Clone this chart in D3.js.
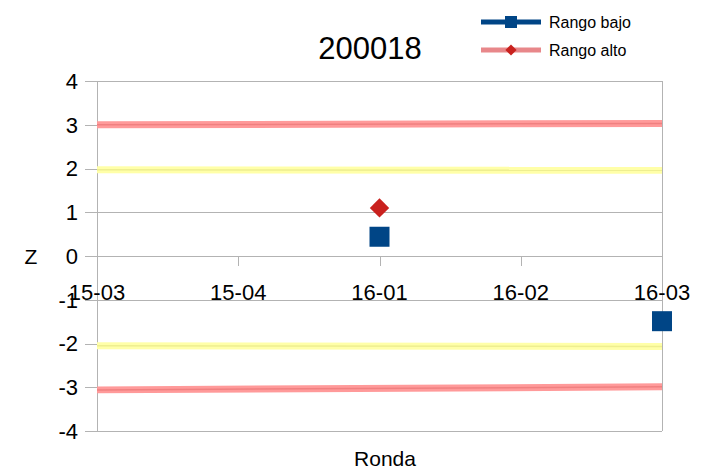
<!DOCTYPE html>
<html>
<head>
<meta charset="utf-8">
<style>
  body { margin: 0; background: #fff; }
  text { font-family: "Liberation Sans", Arial, sans-serif; fill: #000; }
  .grid line { stroke: #b3b3b3; stroke-width: 1; shape-rendering: crispEdges; }
</style>
</head>
<body>
<svg width="714" height="470"></svg>
<script src="https://d3js.org/d3.v7.min.js"></script>
<script>
var rondas = ["15-03", "15-04", "16-01", "16-02", "16-03"];
var yTicks = [-4, -3, -2, -1, 0, 1, 2, 3, 4];

// series (null = no value)
var rangoBajo = [null, null, 0.44, null, -1.49];
var rangoAlto = [null, null, 1.10, null, null];

// limit bands, first and last ronda
var limRojoSup = [3.00, 3.03];
var limAmarSup = [1.97, 1.96];
var limAmarInf = [-2.05, -2.07];
var limRojoInf = [-3.06, -2.99];

var margin = {top: 81, left: 97, right: 52, bottom: 39},
    width = 714 - margin.left - margin.right,
    height = 470 - margin.top - margin.bottom;

var svg = d3.select("svg");
var g = svg.append("g").attr("transform", "translate(" + margin.left + "," + margin.top + ")");

var x = d3.scalePoint().domain(rondas).range([0, width]);
var y = d3.scaleLinear().domain([-4, 4]).range([height, 0]);

// horizontal gridlines
g.append("g").attr("class", "grid")
  .call(d3.axisLeft(y).tickValues(yTicks).tickSize(-width).tickFormat(""))
  .call(function(s) { s.select(".domain").remove(); });

// y tick marks outside
g.append("g").attr("class", "grid")
  .selectAll("line").data(yTicks).enter().append("line")
  .attr("x1", -12).attr("x2", 0)
  .attr("y1", function(d) { return Math.round(y(d)) + 0.5; })
  .attr("y2", function(d) { return Math.round(y(d)) + 0.5; });

// left and right frame lines
g.append("g").attr("class", "grid").selectAll("line")
  .data([0, width]).enter().append("line")
  .attr("x1", function(d) { return d; }).attr("x2", function(d) { return d; })
  .attr("y1", 0).attr("y2", height);

// y labels
g.append("g").selectAll("text").data(yTicks).enter().append("text")
  .attr("x", -19).attr("y", function(d) { return y(d); })
  .attr("dy", "0.36em")
  .attr("text-anchor", "end")
  .style("font-size", "22px")
  .text(function(d) { return d; });

// x axis at zero
var xa = g.append("g").attr("class", "grid");
xa.selectAll("line").data(rondas).enter().append("line")
  .attr("x1", function(d) { return Math.round(x(d)) + 0.5; })
  .attr("x2", function(d) { return Math.round(x(d)) + 0.5; })
  .attr("y1", y(0)).attr("y2", y(0) + 10);
g.append("g").selectAll("text").data(rondas).enter().append("text")
  .attr("x", function(d) { return x(d); })
  .attr("y", y(0) + 44)
  .attr("text-anchor", "middle")
  .style("font-size", "22px")
  .text(function(d) { return d; });

// limit bands
var first = rondas[0], last = rondas[rondas.length - 1];
function band(vals, col, core) {
  var pts = [[x(first), y(vals[0])], [x(last), y(vals[1])]];
  g.append("path").attr("d", d3.line()(pts))
    .attr("stroke", col).attr("stroke-width", 7).attr("fill", "none");
  g.append("path").attr("d", d3.line()(pts))
    .attr("stroke", core).attr("stroke-width", 1.5).attr("fill", "none");
}
band(limRojoSup, "#ff9a9a", "#f08080");
band(limAmarSup, "#ffffa8", "#eeee90");
band(limAmarInf, "#ffffa8", "#eeee90");
band(limRojoInf, "#ff9a9a", "#f08080");

// points
var bajo = rondas.map(function(r, i) { return {r: r, v: rangoBajo[i]}; }).filter(function(d) { return d.v != null; });
var alto = rondas.map(function(r, i) { return {r: r, v: rangoAlto[i]}; }).filter(function(d) { return d.v != null; });

g.selectAll(".sq").data(bajo).enter().append("rect")
  .attr("x", function(d) { return x(d.r) - 10; })
  .attr("y", function(d) { return y(d.v) - 10; })
  .attr("width", 20).attr("height", 20)
  .attr("fill", "#004586");

var diamond = d3.symbol().type(d3.symbolDiamond2).size(240);
g.selectAll(".dm").data(alto).enter().append("path")
  .attr("d", diamond)
  .attr("transform", function(d) { return "translate(" + x(d.r) + "," + y(d.v) + ")"; })
  .attr("fill", "#c9211e");

// title and axis names
svg.append("text").attr("x", 370).attr("y", 59).attr("text-anchor", "middle")
  .style("font-size", "31px").text("200018");
svg.append("text").attr("x", 31).attr("y", y(0) + margin.top + 8).attr("text-anchor", "middle")
  .style("font-size", "21px").text("Z");
svg.append("text").attr("x", 385).attr("y", 466).attr("text-anchor", "middle")
  .style("font-size", "21px").text("Ronda");

// legend
var leg = svg.append("g");
leg.append("line").attr("x1", 481).attr("x2", 541).attr("y1", 22).attr("y2", 22)
  .attr("stroke", "#004586").attr("stroke-width", 5);
leg.append("rect").attr("x", 505).attr("y", 16).attr("width", 12).attr("height", 12).attr("fill", "#004586");
leg.append("text").attr("x", 549).attr("y", 28).style("font-size", "16px").text("Rango bajo");
leg.append("line").attr("x1", 481).attr("x2", 541).attr("y1", 50).attr("y2", 50)
  .attr("stroke", "#e8878a").attr("stroke-width", 5);
leg.append("path").attr("d", d3.symbol().type(d3.symbolDiamond2).size(80))
  .attr("transform", "translate(511,50)").attr("fill", "#c9211e");
leg.append("text").attr("x", 549).attr("y", 56).style("font-size", "16px").text("Rango alto");
</script>
</body>
</html>
